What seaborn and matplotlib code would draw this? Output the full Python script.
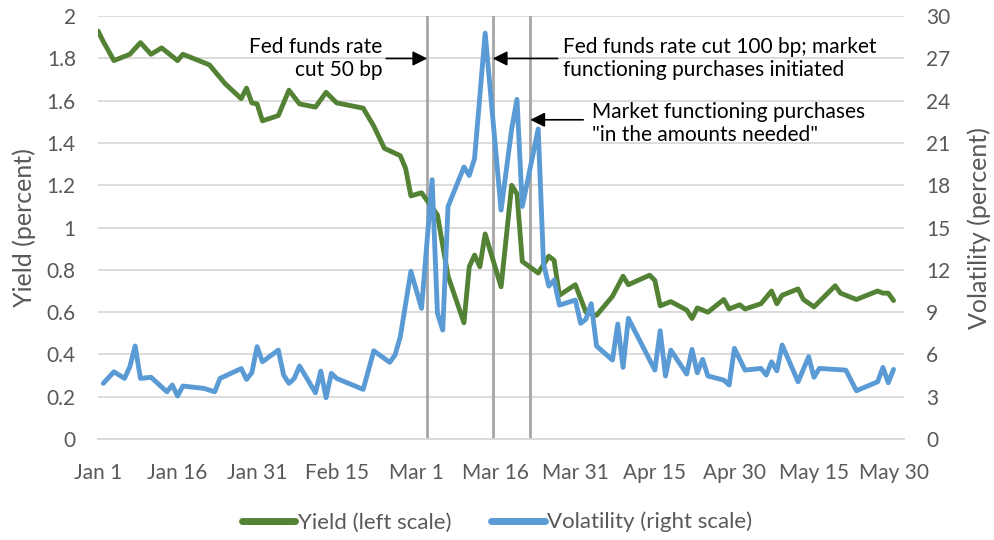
import matplotlib
matplotlib.use("Agg")
import matplotlib.pyplot as plt
import seaborn as sns
import pandas as pd

# days after Jan 1 2020 and the values
yield_days = [0, 1, 3, 6, 8, 10, 12, 15, 16, 21, 24, 27, 28, 29, 30, 31, 34, 36, 38, 41,
              43, 45, 50, 52, 54, 57, 58, 59, 61, 64, 66, 69, 70, 71, 72, 73, 76, 78, 79, 80,
              83, 85, 86, 87, 90, 92, 94, 97, 99, 100, 104, 105, 106, 108, 111, 112, 113, 115, 118, 119,
              121, 122, 125, 127, 128, 129, 132, 133, 135, 139, 140, 143, 147, 148, 149, 150]
yield_vals = [1.93, 1.88, 1.79, 1.82, 1.875, 1.82, 1.85, 1.79, 1.82, 1.77, 1.68, 1.61, 1.66, 1.59, 1.585, 1.505, 1.53, 1.65, 1.585, 1.57,
              1.64, 1.59, 1.565, 1.48, 1.375, 1.34, 1.28, 1.15, 1.165, 1.06, 0.77, 0.55, 0.815, 0.87, 0.815, 0.97, 0.72, 1.20, 1.16, 0.84,
              0.785, 0.865, 0.845, 0.68, 0.73, 0.60, 0.585, 0.675, 0.77, 0.73, 0.775, 0.75, 0.63, 0.65, 0.61, 0.57, 0.62, 0.60, 0.66, 0.615,
              0.635, 0.615, 0.64, 0.70, 0.64, 0.68, 0.71, 0.66, 0.625, 0.725, 0.69, 0.66, 0.70, 0.69, 0.69, 0.655]

vol_days = [1, 3, 5, 6, 7, 8, 10, 13, 14, 15, 16, 20, 22, 23, 27, 28, 29, 30, 31, 34,
            35, 36, 37, 38, 41, 42, 43, 44, 45, 50, 52, 55, 56, 57, 59, 61, 63, 64, 65, 66,
            69, 70, 71, 73, 76, 78, 79, 80, 83, 84, 85, 86, 87, 90, 91, 92, 93, 94, 97, 98,
            99, 100, 105, 106, 107, 108, 111, 112, 113, 114, 115, 118, 119, 120, 122, 125, 126, 127, 128, 129,
            132, 134, 135, 136, 141, 143, 147, 148, 149, 150]
vol_vals = [3.95, 4.77, 4.30, 5.13, 6.6, 4.30, 4.38, 3.35, 3.83, 3.05, 3.76, 3.59, 3.35, 4.30, 5.0, 4.23, 4.7, 6.55, 5.48, 6.31,
            4.54, 3.95, 4.30, 5.18, 3.28, 4.82, 2.93, 4.66, 4.30, 3.52, 6.26, 5.44, 5.96, 7.26, 11.9, 9.27, 18.4, 8.92, 7.73, 16.5,
            19.3, 18.7, 19.9, 28.8, 16.24, 22.0, 24.1, 16.5, 22.0, 12.46, 10.85, 11.28, 9.5, 9.86, 8.21, 8.5, 9.6, 6.6, 5.6, 8.16,
            5.08, 8.56, 4.89, 7.68, 4.47, 6.31, 4.61, 6.36, 4.70, 5.65, 4.47, 4.18, 3.83, 6.43, 4.89, 5.01, 4.54, 5.48, 4.84, 6.67,
            4.06, 5.84, 4.38, 5.01, 4.89, 3.43, 4.06, 5.08, 3.99, 4.94]

tick_dates = ["2020-01-01", "2020-01-16", "2020-01-31", "2020-02-15", "2020-03-01", "2020-03-16",
              "2020-03-31", "2020-04-15", "2020-04-30", "2020-05-15", "2020-05-30"]
tick_labels = ["Jan 1", "Jan 16", "Jan 31", "Feb 15", "Mar 1", "Mar 16",
               "Mar 31", "Apr 15", "Apr 30", "May 15", "May 30"]

event_dates = ["2020-03-03 02:00", "2020-03-15 10:00", "2020-03-22 12:00"]
event_texts = ["Fed funds rate\ncut 50 bp",
               "Fed funds rate cut 100 bp; market\nfunctioning purchases initiated",
               "Market functioning purchases\n\"in the amounts needed\""]

start = pd.Timestamp("2020-01-01")
yld = pd.DataFrame({"date": start + pd.to_timedelta(yield_days, unit="D"), "value": yield_vals})
vol = pd.DataFrame({"date": start + pd.to_timedelta(vol_days, unit="D"), "value": vol_vals})

sns.set_style("white")
plt.rcParams["font.family"] = ["Lato", "DejaVu Sans"]

green = "#548235"
blue = "#5b9bd5"
grey = "#595959"

fig = plt.figure(figsize=(9.94, 5.4), dpi=100)
ax = fig.add_axes([0.0986, 0.187, 0.811, 0.783])
ax2 = ax.twinx()

sns.lineplot(data=yld, x="date", y="value", ax=ax, color=green, linewidth=3.5, label="Yield (left scale)", legend=False)
sns.lineplot(data=vol, x="date", y="value", ax=ax2, color=blue, linewidth=3.5, label="Volatility (right scale)", legend=False)

ax.set_xlim(pd.Timestamp("2020-01-01"), pd.Timestamp("2020-06-01"))
ax.set_ylim(0, 2)
ax2.set_ylim(0, 30)
ax.set_yticks([i * 0.2 for i in range(11)])
ax.set_yticklabels(["0", "0.2", "0.4", "0.6", "0.8", "1", "1.2", "1.4", "1.6", "1.8", "2"])
ax2.set_yticks(range(0, 31, 3))
ax.set_xticks(pd.to_datetime(tick_dates))
ax.set_xticklabels(tick_labels)

ax.grid(axis="y", color="#d9d9d9", linewidth=1.3)
ax.set_axisbelow(True)
for a in (ax, ax2):
    for s in a.spines.values():
        s.set_visible(False)
ax.spines["bottom"].set_visible(True)
ax.spines["bottom"].set_color("#d9d9d9")
ax.spines["bottom"].set_linewidth(1.3)
ax.tick_params(axis="x", colors="#d9d9d9", length=6, width=1.3, labelcolor=grey, labelsize=15, pad=11)
ax.tick_params(axis="y", length=0, labelcolor=grey, labelsize=15, pad=16)
ax2.tick_params(axis="y", length=0, labelcolor=grey, labelsize=15, pad=16)

ax.set_xlabel("")
ax.set_ylabel("Yield (percent)", color=grey, fontsize=18, labelpad=8)
ax2.set_ylabel("Volatility (percent)", color=grey, fontsize=18, labelpad=12)

# event lines with their notes
ev = pd.to_datetime(event_dates)
for d in ev:
    ax.axvline(d, color="#a6a6a6", linewidth=2, zorder=1)

arrow = dict(arrowstyle="-|>", color="black", lw=1.2, mutation_scale=22, shrinkA=0, shrinkB=0)
notes = [(ev[0], 1.8, -41, -45, "right", 0),
         (ev[1], 1.8, 65, 70, "left", 0),
         (ev[2], 1.51, 53, 62, "left", -4)]
for (d, yv, start_off, text_off, ha, dy), txt in zip(notes, event_texts):
    ax.annotate("", xy=(d, yv), xytext=(start_off, 0), textcoords="offset pixels",
                arrowprops=arrow, annotation_clip=False)
    ax.annotate(txt, xy=(d, yv), xytext=(text_off, dy), textcoords="offset pixels",
                ha=ha, va="center", fontsize=15, color="black", linespacing=1.2)

handles = ax.get_lines()[:1] + ax2.get_lines()[:1]
leg = fig.legend(handles, ["Yield (left scale)", "Volatility (right scale)"], loc="center",
                 bbox_to_anchor=(0.5, 0.033), ncol=2, frameon=False, fontsize=16,
                 handlelength=2.4, columnspacing=1.8, handletextpad=0.12)
for t in leg.get_texts():
    t.set_color(grey)
for l in leg.get_lines():
    l.set_linewidth(5)
    l.set_solid_capstyle("round")

fig.savefig("out.png", dpi=100)
